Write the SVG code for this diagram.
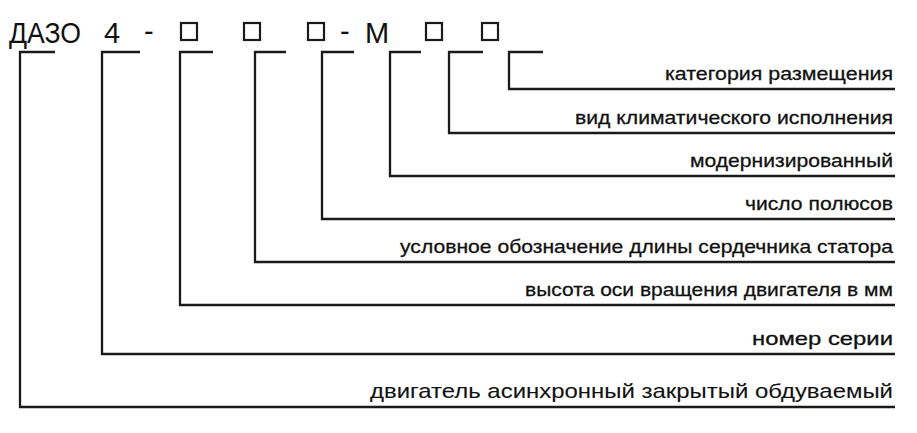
<svg xmlns="http://www.w3.org/2000/svg" width="917" height="433" viewBox="0 0 917 433">
<style>
.t{font-family:"Liberation Sans",Arial,sans-serif;font-size:19px;fill:#111;text-anchor:end;stroke:#111;stroke-width:0.3}
.h{font-family:"Liberation Sans",Arial,sans-serif;font-size:29px;fill:#111}
.l{fill:none;stroke:#1a1a1a;stroke-width:2.3}
.b{fill:none;stroke:#1a1a1a;stroke-width:2.2}
</style>
<rect width="917" height="433" fill="#fff"/>
<g id="header">
<text class="h" x="9" y="43" textLength="72" lengthAdjust="spacingAndGlyphs">ДАЗО</text>
<text class="h" x="104" y="43">4</text>
<text class="h" x="144" y="41">-</text>
<rect class="b" x="181" y="23" width="16" height="17"/>
<rect class="b" x="244" y="23" width="16" height="17"/>
<rect class="b" x="308" y="23" width="16" height="17"/>
<text class="h" x="340" y="41">-</text>
<text class="h" x="365" y="43">М</text>
<rect class="b" x="426" y="23" width="16" height="17"/>
<rect class="b" x="482" y="23" width="16" height="17"/>
</g>
<g id="connectors">
<path class="l" d="M55 52H20V407H895"/>
<path class="l" d="M140 52H102V354H895"/>
<path class="l" d="M213 52H180V305H895"/>
<path class="l" d="M286 52H255V262H895"/>
<path class="l" d="M354 52H322V219H895"/>
<path class="l" d="M421 52H390V176H895"/>
<path class="l" d="M483 52H449V133H895"/>
<path class="l" d="M543 52H509V89H895"/>
</g>
<g id="labels">
<text class="t" x="893" y="80" textLength="228" lengthAdjust="spacingAndGlyphs">категория размещения</text>
<text class="t" x="893" y="124" textLength="318" lengthAdjust="spacingAndGlyphs">вид климатического исполнения</text>
<text class="t" x="893" y="167" textLength="203" lengthAdjust="spacingAndGlyphs">модернизированный</text>
<text class="t" x="893" y="210" textLength="148" lengthAdjust="spacingAndGlyphs">число полюсов</text>
<text class="t" x="893" y="253" textLength="493" lengthAdjust="spacingAndGlyphs">условное обозначение длины сердечника статора</text>
<text class="t" x="893" y="296" textLength="368" lengthAdjust="spacingAndGlyphs">высота оси вращения двигателя в мм</text>
<text class="t" x="893" y="345" textLength="141" lengthAdjust="spacingAndGlyphs">номер серии</text>
<text class="t" x="893" y="398" textLength="523" lengthAdjust="spacingAndGlyphs" style="font-size:21px;stroke-width:0.1">двигатель асинхронный закрытый обдуваемый</text>
</g>
</svg>
